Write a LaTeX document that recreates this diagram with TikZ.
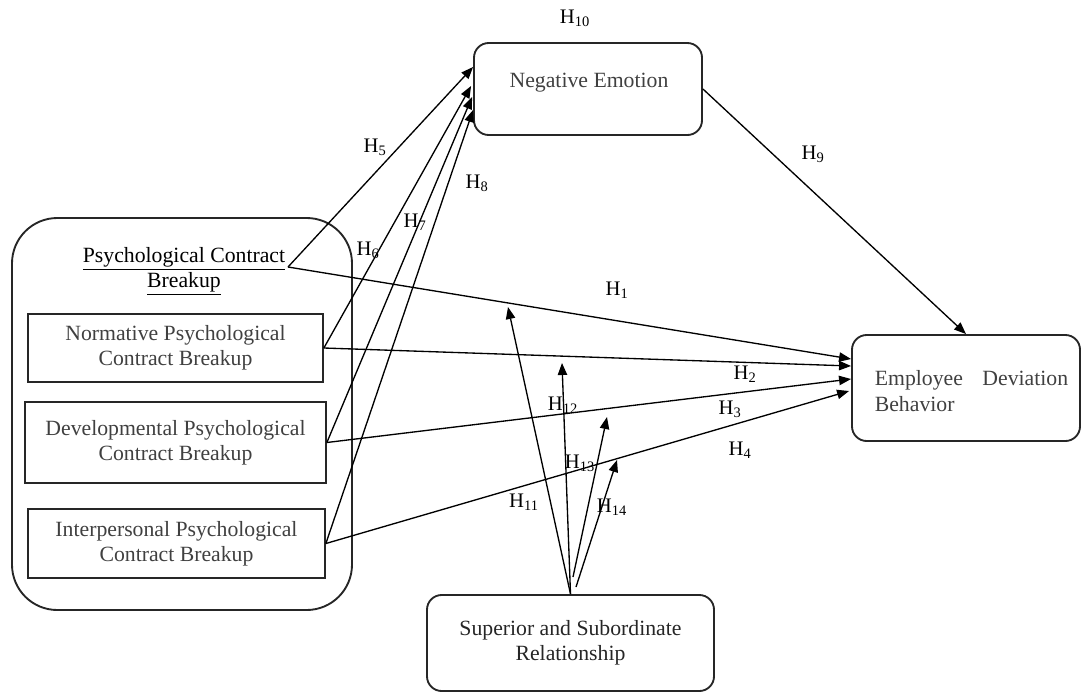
\documentclass[tikz,border=0pt]{standalone}
\usepackage{fontspec}
\setmainfont{Liberation Serif}
\usetikzlibrary{arrows.meta,calc}
\begin{document}
\begin{tikzpicture}[x=0.75pt,y=-0.75pt,
  box/.style={draw=black!85, line width=1.4pt, rounded corners=11pt, inner sep=0pt},
  sq/.style={draw=black!85, line width=1.3pt, inner sep=0pt, align=center,
    font=\fontsize{16.3}{19}\selectfont, text=black!75},
  txt/.style={font=\fontsize{16.3}{19}\selectfont, text=black!75, align=center, inner sep=0pt},
  hyp/.style={font=\fontsize{15.5}{18}\selectfont, inner sep=0pt},
  conn/.style={line width=1pt, -{Triangle[length=9pt,width=7pt]}}]
\useasboundingbox (0,0) rectangle (1081,693);

% Mediator
\node[box, minimum width=171pt, minimum height=69pt] (neg) at (588,89) {};
\node[txt] (negt) at (589,83) {Negative Emotion};

% Independent variable and its three dimensions
\node[box, rounded corners=34pt, minimum width=255pt, minimum height=294pt] (pcbbox) at (182,414) {};
\node[txt, text=black] (title) at (184,271) {\underline{Psychological Contract}\\\underline{Breakup}};
\coordinate (pcb) at (288,267);
\node[sq, minimum width=221.25pt, minimum height=51pt] (norm) at (175.5,348)
  {Normative Psychological\\Contract Breakup};
\node[sq, minimum width=225.75pt, minimum height=60.75pt] (dev) at (175.5,442.5)
  {Developmental Psychological\\Contract Breakup};
\node[sq, minimum width=222.75pt, minimum height=51.75pt] (inter) at (176.5,543.5)
  {Interpersonal Psychological\\Contract Breakup};

% Dependent variable
\node[box, minimum width=171pt, minimum height=79.5pt] (emp) at (966,388) {};
\node[txt, align=left, text width=145pt] (empt) at (971.5,391)
  {\makebox[145pt][l]{Employee\hfill Deviation}\\Behavior};

% Moderator
\node[box, minimum width=215.25pt, minimum height=72pt, align=center,
  font=\fontsize{16.3}{19}\selectfont, text=black!85] (sup) at (570.5,643)
  {Superior and Subordinate\\Relationship};

% Paths to the mediator
\draw[conn] (pcb) -- ($(neg.west)+(0,-22)$);
\draw[conn] (norm.east) -- ($(neg.west)+(-2,-3)$);
\draw[conn] (dev.east) -- ($(neg.west)+(-1,8)$);
\draw[conn] (inter.east) -- ($(neg.west)+(0,21)$);

% Direct paths to deviation behaviour
\draw[conn] (pcb) -- ($(emp.west)+(0,-29)$);
\draw[conn] (norm.east) -- ($(emp.west)+(0,-22)$);
\draw[conn] (dev.east) -- ($(emp.west)+(0,-9)$);
\draw[conn] (inter.east) -- ($(emp.west)+(-2,3)$);
\draw[conn] (neg.east) -- (emp.north);

% Moderating paths
\coordinate (m11) at (508,307);
\coordinate (m12) at (562,363);
\coordinate (m13) at (607,417);
\coordinate (m14) at (617,460);
\coordinate (s13) at (573,577);
\coordinate (s14) at (576,587);
\draw[conn] (sup.north) -- (m11);
\draw[conn] (sup.north) -- (m12);
\draw[conn] (s13) -- (m13);
\draw[conn] (s14) -- (m14);

% Hypothesis labels
\node[hyp] (h10) at (575,18) {H\textsubscript{10}};
\node[hyp] (h5) at (375,147) {H\textsubscript{5}};
\node[hyp] (h6) at (368,250) {H\textsubscript{6}};
\node[hyp] (h7) at (415,222) {H\textsubscript{7}};
\node[hyp] (h8) at (477,183) {H\textsubscript{8}};
\node[hyp] (h1) at (617,290) {H\textsubscript{1}};
\node[hyp] (h9) at (813,154) {H\textsubscript{9}};
\node[hyp] (h2) at (745,374) {H\textsubscript{2}};
\node[hyp] (h3) at (730,409) {H\textsubscript{3}};
\node[hyp] (h4) at (740,450) {H\textsubscript{4}};
\node[hyp] (h12) at (563,405) {H\textsubscript{12}};
\node[hyp] (h13) at (580,463) {H\textsubscript{13}};
\node[hyp] (h11) at (524,502) {H\textsubscript{11}};
\node[hyp] (h14) at (612,507) {H\textsubscript{14}};
\end{tikzpicture}
\end{document}
